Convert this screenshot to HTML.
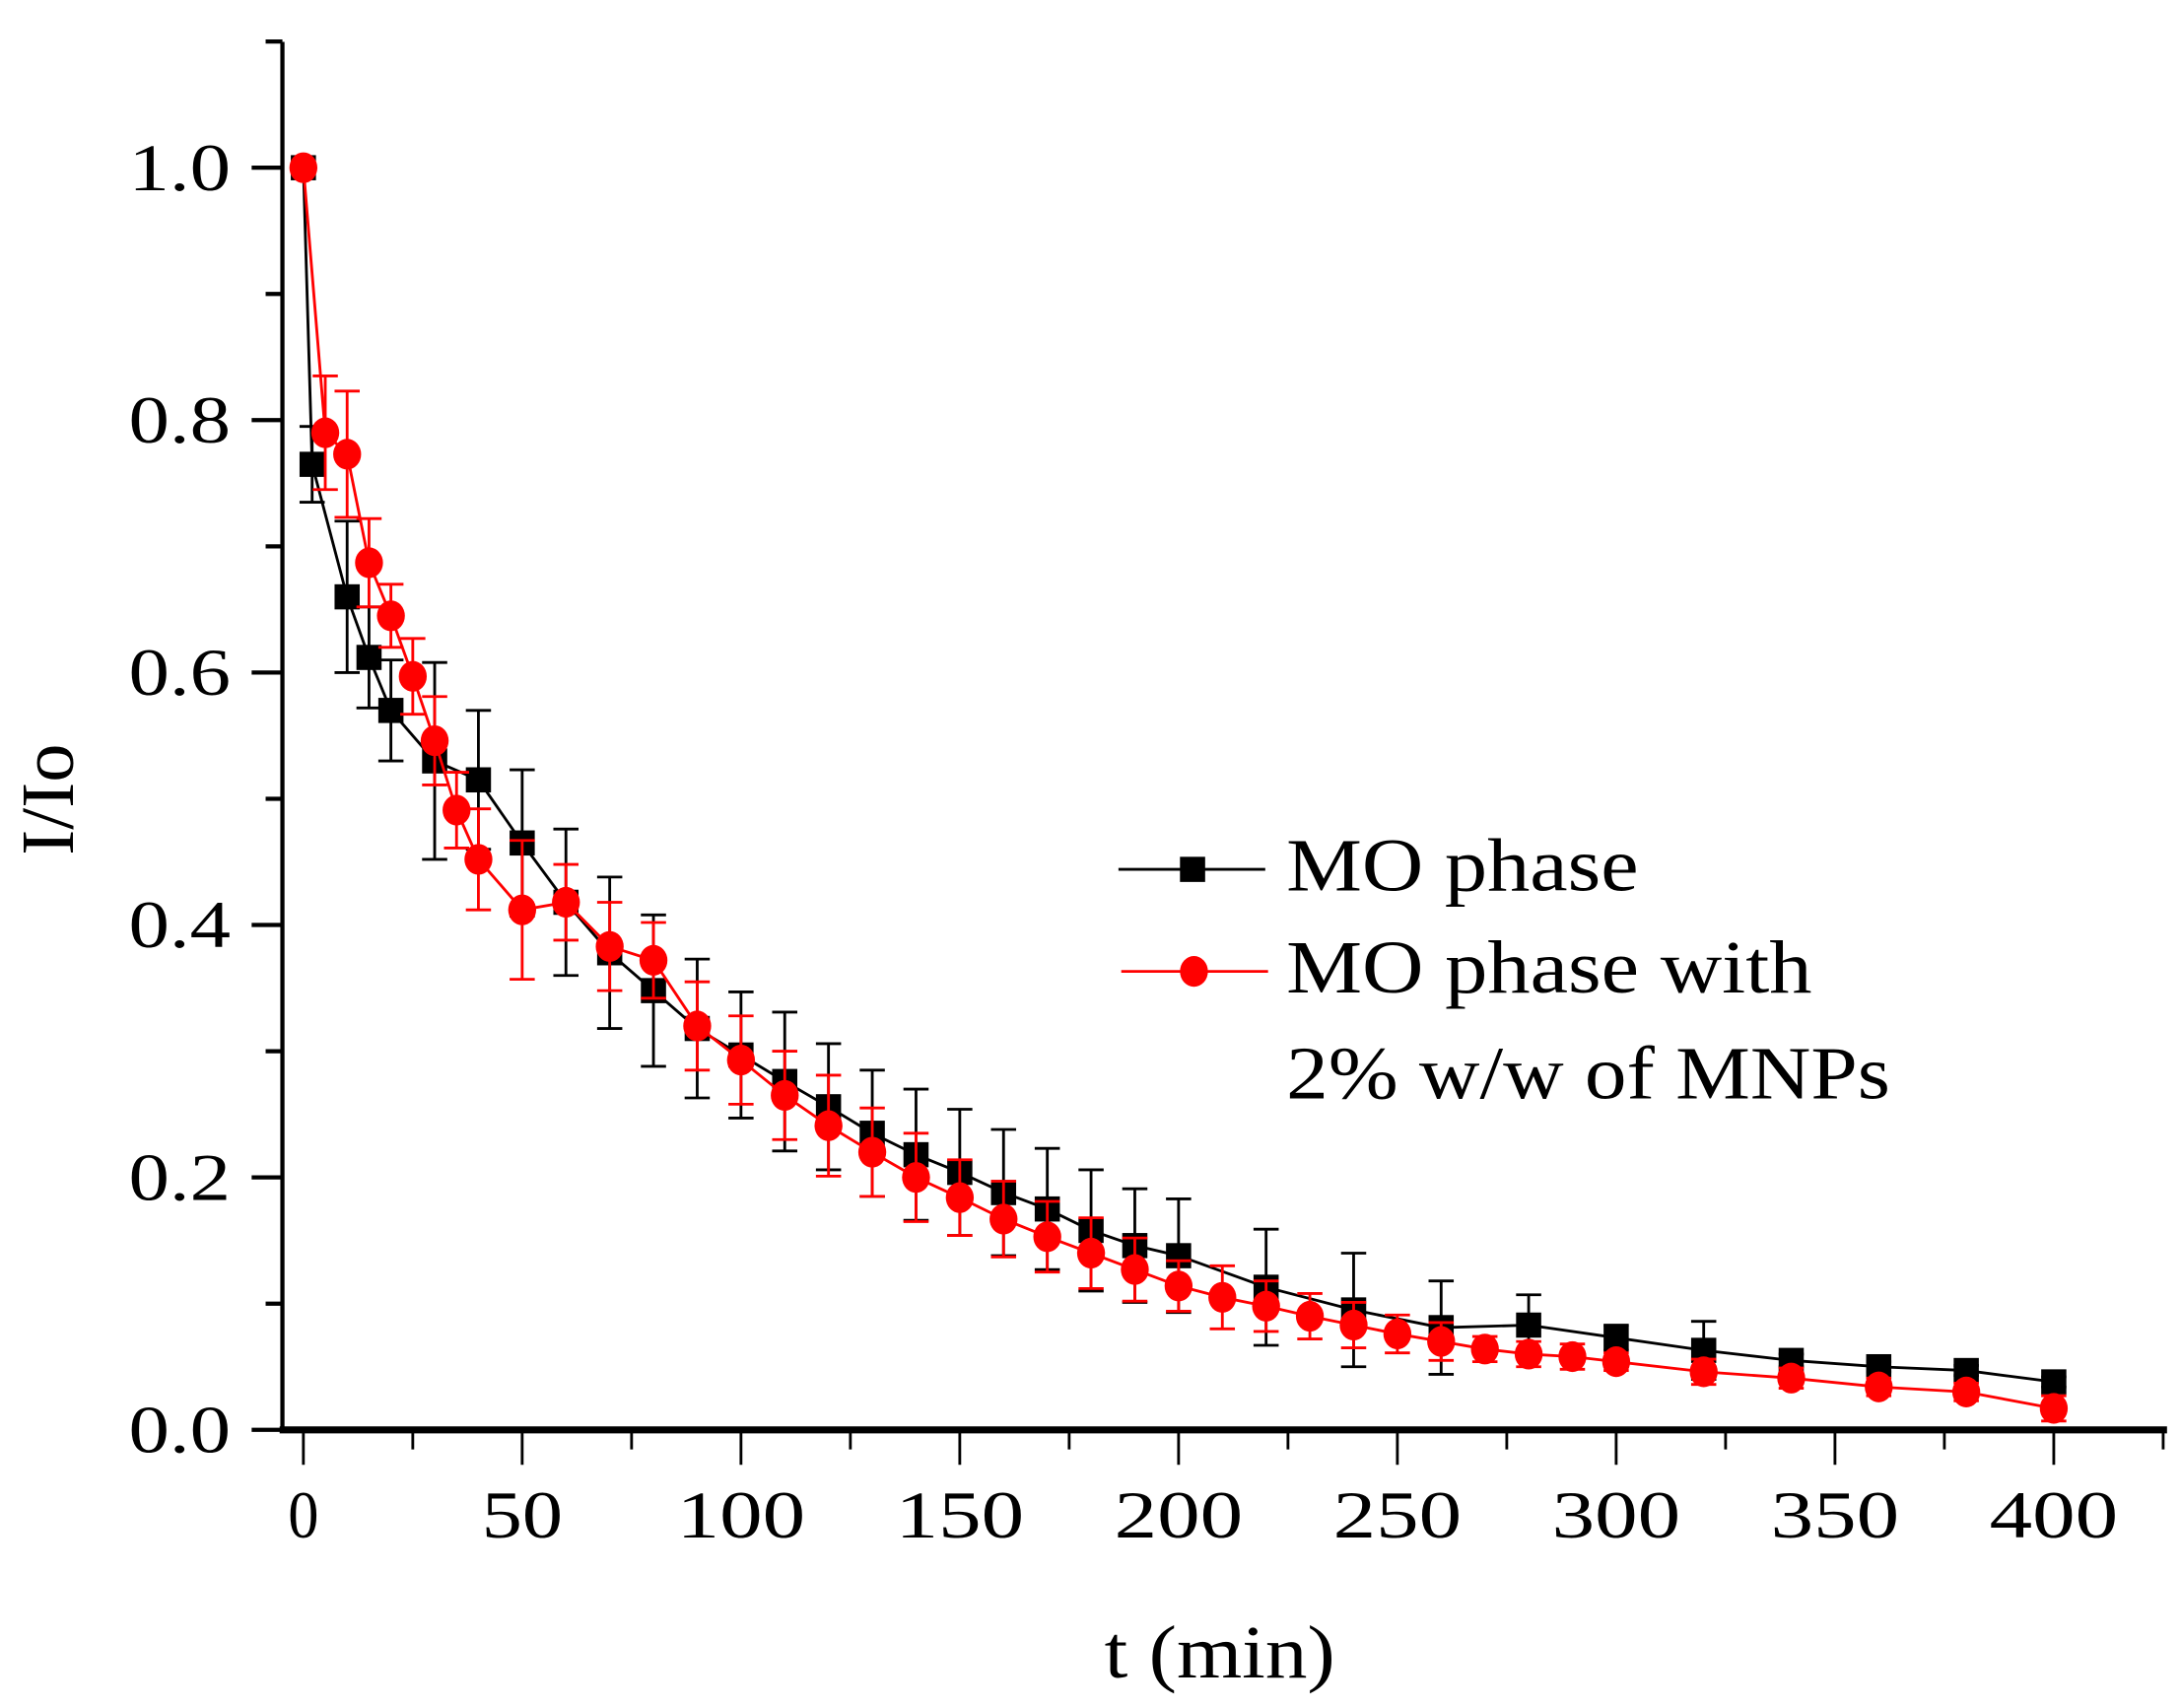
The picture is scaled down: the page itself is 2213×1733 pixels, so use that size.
<!DOCTYPE html>
<html><head><meta charset="utf-8"><style>html,body{margin:0;padding:0;background:#fff}svg{display:block}text{font-family:"Liberation Serif",serif}</style></head>
<body>
<svg id="s" width="2213" height="1733" viewBox="0 0 1560 1222" preserveAspectRatio="none" xmlns="http://www.w3.org/2000/svg">
<g id="axes" stroke="#000" fill="none"></g>
<g id="txt" fill="#000"></g>
<g id="black"></g>
<g id="red"></g>
<g id="legend">
<line x1="800" y1="622" x2="905" y2="622" stroke="#000" stroke-width="2"/>
<rect x="844" y="613" width="18" height="18" fill="#000"/>
<line x1="802" y1="695" x2="907" y2="695" stroke="#f00" stroke-width="2"/>
<ellipse cx="854" cy="695" rx="10" ry="11" fill="#f00"/>
<text x="920" y="637" font-size="54" textLength="252" lengthAdjust="spacingAndGlyphs">MO phase</text>
<text x="920" y="710" font-size="54" textLength="376" lengthAdjust="spacingAndGlyphs">MO phase with</text>
<text x="920" y="786" font-size="54" textLength="432" lengthAdjust="spacingAndGlyphs">2% w/w of MNPs</text>
</g>
</svg>
<script>
const NS="http://www.w3.org/2000/svg";
function el(p,t,a,txt){const e=document.createElementNS(NS,t);for(const k in a)e.setAttribute(k,a[k]);if(txt!==undefined)e.textContent=txt;document.getElementById(p).appendChild(e);return e;}
const X=t=>217+t*(1252/400), Y=v=>1023-v*903;
el("axes","line",{x1:202,y1:30,x2:202,y2:1025,"stroke-width":3});
el("axes","line",{x1:200,y1:1023,x2:1550,y2:1023,"stroke-width":5});
for(let i=0;i<=11;i++){const y=Y(i*0.1);el("axes","line",{x1:i%2==0?180:190,y1:y,x2:202,y2:y,"stroke-width":3});}
for(let t=0;t<=440;t+=25){const x=X(t);el("axes","line",{x1:x,y1:1023,x2:x,y2:t%50==0?1048:1037,"stroke-width":2});}
for(let i=0;i<=5;i++){el("txt","text",{x:92,y:Y(i*0.2)+16,"font-size":48,textLength:73,lengthAdjust:"spacingAndGlyphs"},(i*0.2).toFixed(1));}
for(let t=0;t<=400;t+=50){const s=String(t);const w=s.length==1?22:s.length==2?58:92;el("txt","text",{x:X(t)-w/2,y:1100,"font-size":48,textLength:w,lengthAdjust:"spacingAndGlyphs"},s);}
el("txt","text",{x:790,y:1200,"font-size":54,textLength:165,lengthAdjust:"spacingAndGlyphs"},"t (min)");
el("txt","text",{x:0,y:0,"font-size":54,transform:"translate(52,612) rotate(-90)",textLength:80,lengthAdjust:"spacingAndGlyphs"},"I/Io");
const B=[[0,1,0],[2,.765,.03],[10,.66,.06],[15,.612,.04],[20,.57,.04],[30,.53,.078],[40,.515,.055],[50,.465,.058],[60,.418,.058],[70,.378,.06],[80,.348,.06],[90,.318,.055],[100,.297,.05],[110,.276,.055],[120,.256,.05],[130,.235,.05],[140,.218,.052],[150,.204,.05],[160,.188,.05],[170,.175,.048],[180,.158,.048],[190,.146,.045],[200,.138,.045],[220,.113,.046],[240,.095,.045],[260,.081,.037],[280,.083,.024],[300,.073,.01],[320,.063,.023],[340,.055,.005],[360,.05,.004],[380,.047,.004],[400,.038,.004]];
const R=[[0,1,0],[5,.79,.045],[10,.773,.05],[15,.687,.035],[20,.645,.025],[25,.597,.03],[30,.546,.035],[35,.491,.03],[40,.452,.04],[50,.412,.055],[60,.418,.03],[70,.383,.035],[80,.372,.03],[90,.32,.035],[100,.293,.035],[110,.265,.035],[120,.241,.04],[130,.22,.035],[140,.2,.035],[150,.184,.03],[160,.167,.03],[170,.153,.028],[180,.14,.028],[190,.127,.025],[200,.114,.02],[210,.105,.025],[220,.098,.02],[230,.09,.018],[240,.083,.018],[250,.076,.015],[260,.07,.015],[270,.064,.01],[280,.06,.01],[290,.058,.01],[300,.054,.007],[320,.046,.01],[340,.041,.008],[360,.034,.007],[380,.03,.007],[400,.017,.01]];
function series(g,D,c,sq){
 el(g,"polyline",{points:D.map(d=>X(d[0])+","+Y(d[1])).join(" "),fill:"none",stroke:c,"stroke-width":2});
 D.forEach(d=>{if(d[2]>0){const x=X(d[0]);el(g,"line",{x1:x,y1:Y(d[1]+d[2]),x2:x,y2:Y(d[1]-d[2]),stroke:c,"stroke-width":2});
  [d[1]+d[2],d[1]-d[2]].forEach(v=>el(g,"line",{x1:x-9,y1:Y(v),x2:x+9,y2:Y(v),stroke:c,"stroke-width":2}));}});
 D.forEach(d=>{const x=X(d[0]),y=Y(d[1]);if(sq)el(g,"rect",{x:x-9,y:y-9,width:18,height:18,fill:c});else el(g,"ellipse",{cx:x,cy:y,rx:10,ry:11,fill:c});});
}
series("black",B,"#000",true);
series("red",R,"#f00",false);
</script>
</body></html>
